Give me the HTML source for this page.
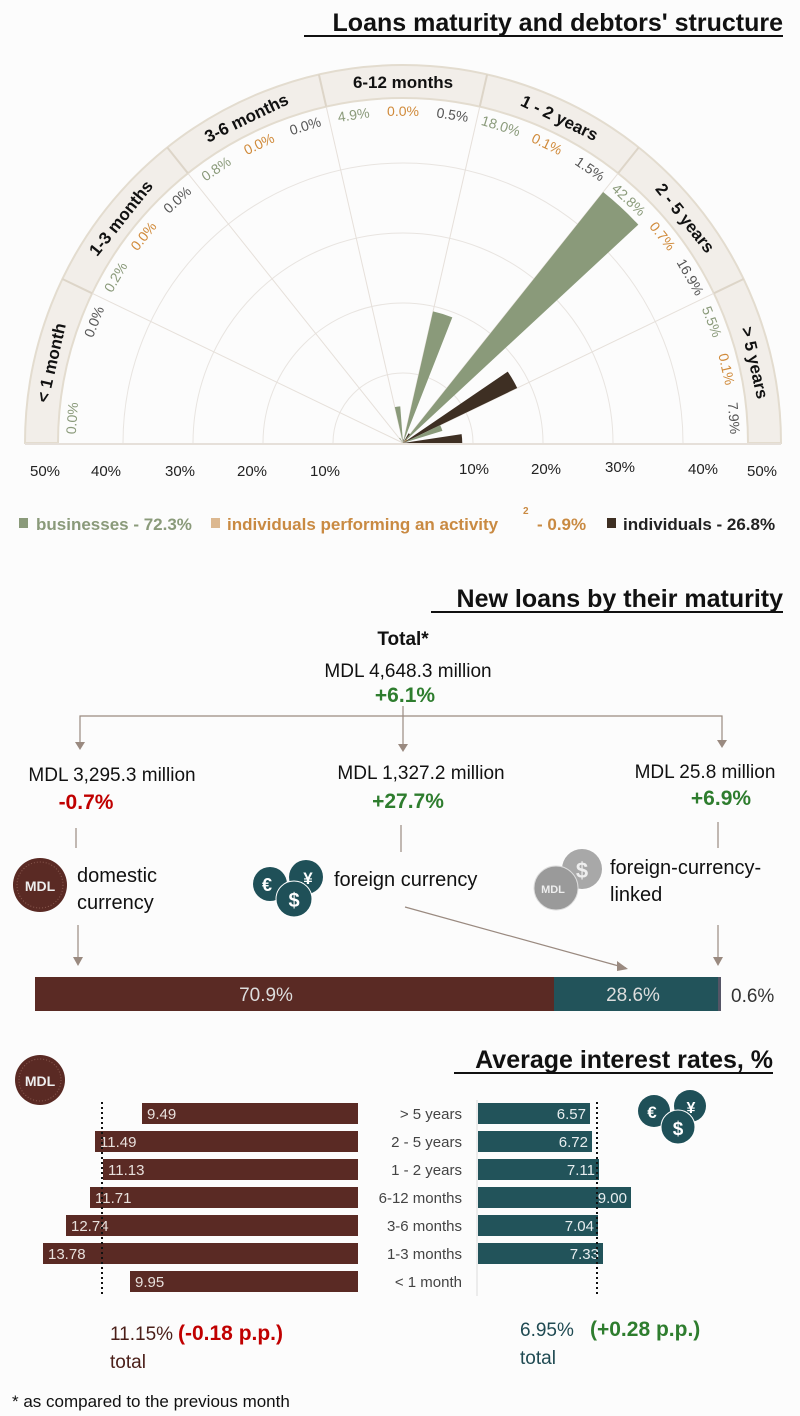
<!DOCTYPE html>
<html><head><meta charset="utf-8"><style>
html,body{margin:0;padding:0;background:#fcfcfc}
svg{display:block}
text{font-family:"Liberation Sans Narrow","Liberation Sans",sans-serif}
</style></head><body>
<svg id="s" width="800" height="1416" viewBox="0 0 800 1416" xmlns="http://www.w3.org/2000/svg">
<rect width="800" height="1416" fill="#fcfcfc"/>
<text x="783" y="31" text-anchor="end" font-size="25" font-weight="bold" fill="#111">Loans maturity and debtors' structure</text>
<line x1="304" y1="36" x2="783" y2="36" stroke="#111" stroke-width="2"/>
<g id="polar"></g>
<g font-size="15" fill="#222" text-anchor="middle">
<text x="45" y="476">50%</text><text x="106" y="476">40%</text><text x="180" y="476">30%</text><text x="252" y="476">20%</text><text x="325" y="476">10%</text>
<text x="474" y="474">10%</text><text x="546" y="474">20%</text><text x="620" y="472">30%</text><text x="703" y="474">40%</text><text x="762" y="476">50%</text>
</g>
<g font-size="17" font-weight="bold">
<rect x="19" y="518" width="9" height="10" fill="#8a9a7a"/><text x="36" y="530" fill="#8a9a7a">businesses - 72.3%</text>
<rect x="211" y="518" width="9" height="10" fill="#dcb890"/><text x="227" y="530" fill="#c98a42">individuals performing an activity</text>
<text x="523" y="514" font-size="10" fill="#c98a42">2</text><text x="537" y="530" fill="#c98a42">- 0.9%</text>
<rect x="607" y="518" width="9" height="10" fill="#3e2f23"/><text x="623" y="530" fill="#222">individuals - 26.8%</text>
</g>
<text x="783" y="607" text-anchor="end" font-size="25" font-weight="bold" fill="#111">New loans by their maturity</text>
<line x1="431" y1="612" x2="783" y2="612" stroke="#111" stroke-width="2"/>
<g text-anchor="middle">
<text x="403" y="645" font-size="19" font-weight="bold" fill="#111">Total*</text>
<text x="408" y="677" font-size="19" fill="#111">MDL 4,648.3 million</text>
<text x="405" y="702" font-size="21" font-weight="bold" fill="#2e7d2e">+6.1%</text>
</g>
<g stroke="#9a8a80" stroke-width="1.2" fill="none">
<polyline points="80,748 80,716 722,716 722,745"/>
<line x1="403" y1="706" x2="403" y2="750"/>
<line x1="76" y1="828" x2="76" y2="848"/><line x1="401" y1="825" x2="401" y2="852"/><line x1="718" y1="822" x2="718" y2="848"/>
<line x1="78" y1="925" x2="78" y2="962"/><line x1="718" y1="925" x2="718" y2="962"/>
<line x1="405" y1="907" x2="626" y2="968"/>
</g>
<g fill="#9a8a80">
<polygon points="75,742 85,742 80,750"/><polygon points="398,744 408,744 403,752"/><polygon points="717,740 727,740 722,748"/>
<polygon points="73,957 83,957 78,966"/><polygon points="713,957 723,957 718,966"/><polygon points="617,961 628,969 617,971"/>
</g>
<text x="112" y="781" text-anchor="middle" font-size="19" fill="#111">MDL 3,295.3 million</text>
<text x="86" y="809" text-anchor="middle" font-size="21" font-weight="bold" fill="#c00000">-0.7%</text>
<text x="421" y="779" text-anchor="middle" font-size="19" fill="#111">MDL 1,327.2 million</text>
<text x="408" y="808" text-anchor="middle" font-size="21" font-weight="bold" fill="#2e7d2e">+27.7%</text>
<text x="705" y="778" text-anchor="middle" font-size="19" fill="#111">MDL 25.8 million</text>
<text x="721" y="805" text-anchor="middle" font-size="21" font-weight="bold" fill="#2e7d2e">+6.9%</text>
<g font-size="20" fill="#111">
<text x="77" y="882">domestic</text><text x="77" y="909">currency</text>
<text x="334" y="886">foreign currency</text>
<text x="610" y="874">foreign-currency-</text><text x="610" y="901">linked</text>
</g>
<g><circle cx="40" cy="885" r="27" fill="#5a2a24"/><circle cx="40" cy="885" r="23" fill="none" stroke="#8a5a50" stroke-dasharray="1,2"/><text x="40" y="891" text-anchor="middle" font-size="14" font-weight="bold" fill="#eee" font-family="Liberation Sans">MDL</text></g>
<g font-family="Liberation Sans" font-weight="bold" text-anchor="middle" fill="#fff">
<circle cx="270" cy="884" r="17" fill="#1f5058"/><circle cx="306" cy="877" r="17" fill="#1f5058"/><circle cx="294" cy="899" r="18" fill="#1f5058" stroke="#fff" stroke-width="1"/>
<text x="267" y="891" font-size="18">€</text><text x="308" y="884" font-size="17">¥</text><text x="294" y="907" font-size="20">$</text>
<circle cx="582" cy="869" r="20" fill="#a8a8a8"/><circle cx="556" cy="888" r="22" fill="#9a9a9a" stroke="#ddd"/>
<text x="582" y="878" font-size="22" fill="#eee">$</text><text x="553" y="893" font-size="11" fill="#eee">MDL</text>
</g>
<rect x="35" y="977" width="519" height="34" fill="#5a2a24"/>
<rect x="554" y="977" width="164" height="34" fill="#22535a"/>
<rect x="718" y="977" width="3" height="34" fill="#556"/>
<text x="266" y="1001" text-anchor="middle" font-size="19" fill="#ddd">70.9%</text>
<text x="633" y="1001" text-anchor="middle" font-size="19" fill="#ddd">28.6%</text>
<text x="731" y="1002" font-size="19" fill="#333">0.6%</text>
<text x="773" y="1068" text-anchor="end" font-size="25" font-weight="bold" fill="#111">Average interest rates, %</text>
<line x1="454" y1="1073" x2="773" y2="1073" stroke="#111" stroke-width="2"/>
<g><circle cx="40" cy="1080" r="25" fill="#5a2a24"/><circle cx="40" cy="1080" r="21" fill="none" stroke="#8a5a50" stroke-dasharray="1,2"/><text x="40" y="1086" text-anchor="middle" font-size="14" font-weight="bold" fill="#eee" font-family="Liberation Sans">MDL</text></g>
<g font-family="Liberation Sans" font-weight="bold" text-anchor="middle" fill="#fff">
<circle cx="654" cy="1111" r="16" fill="#1f5058"/><circle cx="690" cy="1106" r="16" fill="#1f5058"/><circle cx="678" cy="1127" r="17" fill="#1f5058" stroke="#fff"/>
<text x="652" y="1118" font-size="17">€</text><text x="691" y="1113" font-size="16">¥</text><text x="678" y="1135" font-size="19">$</text>
</g>
<g id="rates"></g>
<line x1="477" y1="1100" x2="477" y2="1296" stroke="#ddd"/>
<line x1="102" y1="1102" x2="102" y2="1295" stroke="#111" stroke-width="2" stroke-dasharray="2,3"/>
<line x1="597" y1="1102" x2="597" y2="1295" stroke="#111" stroke-width="2" stroke-dasharray="2,3"/>
<text x="110" y="1340" font-size="19" fill="#4a1e18">11.15%</text>
<text x="178" y="1340" font-size="21" font-weight="bold" fill="#c00000">(-0.18 p.p.)</text>
<text x="110" y="1368" font-size="19" fill="#4a1e18">total</text>
<text x="520" y="1336" font-size="19" fill="#1f4a52">6.95%</text>
<text x="590" y="1336" font-size="21" font-weight="bold" fill="#2e7d2e">(+0.28 p.p.)</text>
<text x="520" y="1364" font-size="19" fill="#1f4a52">total</text>
<text x="12" y="1407" font-size="17" fill="#111">* as compared to the previous month</text>
</svg>
<script>
var cx=403,cy=443,R0=345,R1=378,K=7.5;
var P=document.getElementById('polar'),h='';
function pt(r,a){a=a*Math.PI/180;return [cx+r*Math.cos(a),cy-r*Math.sin(a)];}
function arc(r0,r1,a0,a1){var p1=pt(r1,a0),p2=pt(r1,a1),p3=pt(r0,a1),p4=pt(r0,a0);
return 'M'+p1+' A'+r1+','+r1+' 0 0 1 '+p2+' L'+p3+' A'+r0+','+r0+' 0 0 0 '+p4+'Z';}
h+='<path d="'+arc(R0,R1,180,0)+'" fill="#f2eee9" stroke="#e3dccf" stroke-width="2"/>';
for(var r=70;r<=280;r+=70)h+='<path d="M'+(cx-r)+','+cy+' A'+r+','+r+' 0 0 1 '+(cx+r)+','+cy+'" fill="none" stroke="#e8e4e0"/>';
var S=180/7;
for(var i=1;i<7;i++){var a=180-i*S,p=pt(R0,a),q=pt(R1,a);h+='<line x1="'+cx+'" y1="'+cy+'" x2="'+p[0]+'" y2="'+p[1]+'" stroke="#e6e0da"/><line x1="'+p[0]+'" y1="'+p[1]+'" x2="'+q[0]+'" y2="'+q[1]+'" stroke="#ddd5c8" stroke-width="2"/>';}
h+='<line x1="25" y1="444" x2="781" y2="444" stroke="#e6e0da" stroke-width="2"/>';
var cats=['< 1 month','1-3 months','3-6 months','6-12 months','1 - 2 years','2 - 5 years','> 5 years'];
var D=[[0,null,0],[0.2,0,0],[0.8,0,0],[4.9,0,0.5],[18.0,0.1,1.5],[42.8,0.7,16.9],[5.5,0.1,7.9]];
var col=['#8a9a7a','#d08a3a','#3e2f23'],tcol=['#8a9a7a','#d08a3a','#555'];
for(var i=0;i<7;i++){for(var j=0;j<3;j++){var v=D[i][j];var a0=180-i*S-j*S/3,a1=a0-S/3;
 if(v!==null&&v>0){var L=v*K,p=pt(L,a0),q=pt(L,a1);h+='<path d="M'+cx+','+cy+' L'+p+' A'+L+','+L+' 0 0 1 '+q+'Z" fill="'+col[j]+'"/>';}
 if(v!==null){var am=(a0+a1)/2,t=pt(332,am);h+='<text transform="translate('+t+') rotate('+(90-am)+')" text-anchor="middle" font-size="14" fill="'+tcol[j]+'" dy="5">'+v.toFixed(1)+'%</text>';}
 }
 var am=180-(i+0.5)*S,t=pt(361,am);h+='<text transform="translate('+t+') rotate('+(90-am)+')" text-anchor="middle" font-size="17" font-weight="bold" fill="#111" dy="6">'+cats[i].replace('<','&lt;').replace('>','&gt;')+'</text>';
}
P.innerHTML=h;
var rows=[['> 5 years',142,'9.49',590,'6.57'],['2 - 5 years',95,'11.49',592,'6.72'],['1 - 2 years',103,'11.13',599,'7.11'],['6-12 months',90,'11.71',631,'9.00'],['3-6 months',66,'12.74',598,'7.04'],['1-3 months',43,'13.78',603,'7.33'],['< 1 month',130,'9.95',null,'']];
var g='';rows.forEach(function(r,k){var y=1103+k*28;
g+='<rect x="'+r[1]+'" y="'+y+'" width="'+(358-r[1])+'" height="21" fill="#5a2a24"/><text x="'+(r[1]+5)+'" y="'+(y+16)+'" font-size="15" fill="#e8e0dc">'+r[2]+'</text>';
g+='<text x="462" y="'+(y+16)+'" text-anchor="end" font-size="15" fill="#444">'+r[0].replace('<','&lt;').replace('>','&gt;')+'</text>';
if(r[3]){g+='<rect x="478" y="'+y+'" width="'+(r[3]-478)+'" height="21" fill="#22535a"/><text x="'+(r[3]-4)+'" y="'+(y+16)+'" text-anchor="end" font-size="15" fill="#e8eef0">'+r[4]+'</text>';}
});
document.getElementById('rates').innerHTML=g;
</script>
</body></html>
